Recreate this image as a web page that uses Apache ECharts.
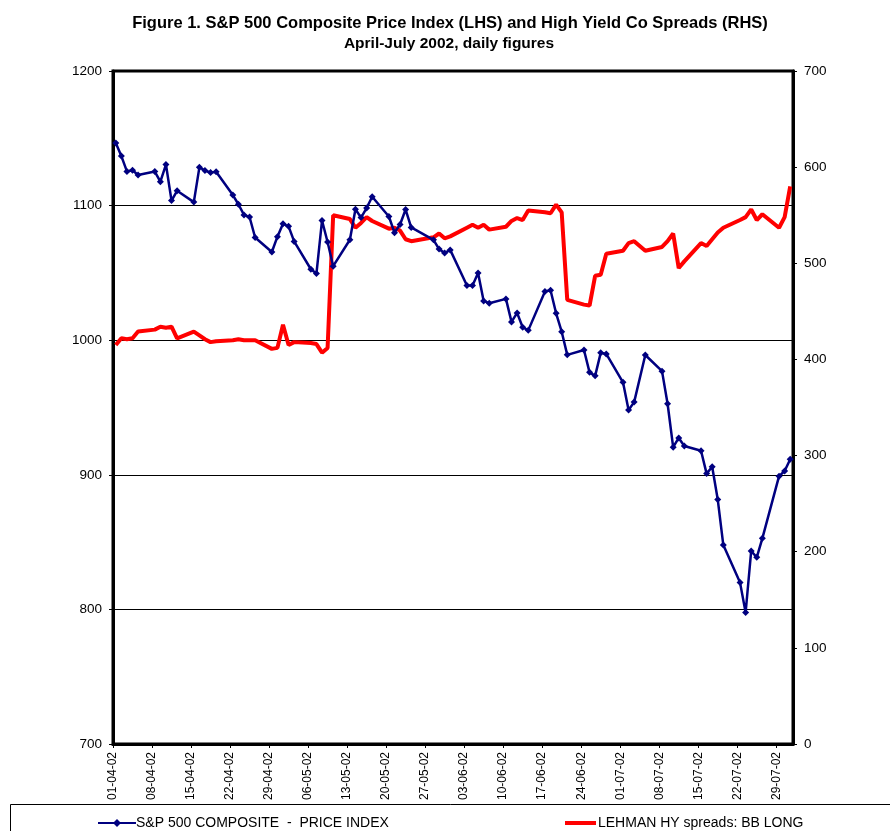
<!DOCTYPE html>
<html>
<head>
<meta charset="utf-8">
<script src="https://cdn.jsdelivr.net/npm/echarts@6/dist/echarts.min.js"></script>
<style>
html,body{margin:0;padding:0;background:#fff;}
#chart{width:890px;height:831px;}
</style>
</head>
<body>
<div id="chart"></div>
<script>
// Trading dates (2002)
var dates = [
 '2002-04-01','2002-04-02','2002-04-03','2002-04-04','2002-04-05',
 '2002-04-08','2002-04-09','2002-04-10','2002-04-11','2002-04-12',
 '2002-04-15','2002-04-16','2002-04-17','2002-04-18','2002-04-19',
 '2002-04-22','2002-04-23','2002-04-24','2002-04-25','2002-04-26',
 '2002-04-29','2002-04-30','2002-05-01','2002-05-02','2002-05-03',
 '2002-05-06','2002-05-07','2002-05-08','2002-05-09','2002-05-10',
 '2002-05-13','2002-05-14','2002-05-15','2002-05-16','2002-05-17',
 '2002-05-20','2002-05-21','2002-05-22','2002-05-23','2002-05-24',
 '2002-05-28','2002-05-29','2002-05-30','2002-05-31',
 '2002-06-03','2002-06-04','2002-06-05','2002-06-06','2002-06-07',
 '2002-06-10','2002-06-11','2002-06-12','2002-06-13','2002-06-14',
 '2002-06-17','2002-06-18','2002-06-19','2002-06-20','2002-06-21',
 '2002-06-24','2002-06-25','2002-06-26','2002-06-27','2002-06-28',
 '2002-07-01','2002-07-02','2002-07-03','2002-07-05',
 '2002-07-08','2002-07-09','2002-07-10','2002-07-11','2002-07-12',
 '2002-07-15','2002-07-16','2002-07-17','2002-07-18','2002-07-19',
 '2002-07-22','2002-07-23','2002-07-24','2002-07-25','2002-07-26',
 '2002-07-29','2002-07-30','2002-07-31'
];
// S&P 500 Composite price index (LHS)
var spx = [
 1146.5,1136.8,1125.4,1126.3,1122.7,
 1125.3,1117.8,1130.5,1103.7,1111.0,
 1102.6,1128.4,1126.1,1124.5,1125.2,
 1107.8,1101.0,1093.1,1091.5,1076.3,
 1065.5,1076.9,1086.5,1084.6,1073.4,
 1052.7,1049.5,1088.9,1073.0,1055.0,
 1074.6,1097.3,1091.1,1098.2,1106.6,
 1091.9,1079.9,1086.0,1097.1,1083.8,
 1074.6,1067.7,1064.7,1067.1,
 1040.7,1040.7,1049.9,1029.2,1027.5,
 1030.7,1013.6,1020.3,1009.6,1007.3,
 1036.2,1037.1,1020.0,1006.3,989.1,
 992.7,976.1,973.5,990.6,989.8,
 968.7,948.1,954.0,989.0,
 977.0,952.8,920.5,927.4,921.4,
 917.9,900.9,906.0,881.6,847.8,
 819.9,797.7,843.4,838.7,852.8,
 899.0,902.8,911.6
];
// Lehman HY spreads: BB long (RHS)
var hy = [
 415,422,421,422,429,
 431,434,433,434,422,
 429,425,421,418,419,
 420,421,420,420,420,
 411,412,436,415,418,
 417,416,407,412,550,
 546,537,542,548,544,
 536,537,534,525,523,
 527,531,526,528,
 537,540,537,540,535,
 538,544,547,545,555,
 553,552,561,553,462,
 457,456,487,488,510,
 513,521,523,513,
 517,523,531,495,502,
 521,518,525,532,537,
 545,548,556,545,551,
 537,548,580
];
var startDate = '2002-04-01';
var axisDays = 122;
var tickStep = 7;
var seriesNames = ['S&P 500 COMPOSITE  -  PRICE INDEX', 'LEHMAN HY spreads: BB LONG'];
var titleLines = ['Figure 1. S&P 500 Composite Price Index (LHS) and High Yield Co Spreads (RHS)', 'April-July 2002, daily figures'];

function dayIndex(s) {
  var p = s.split('-').map(Number);
  var q = startDate.split('-').map(Number);
  return (Date.UTC(p[0], p[1]-1, p[2]) - Date.UTC(q[0], q[1]-1, q[2])) / 86400000;
}
function pad(n){ return (n < 10 ? '0' : '') + n; }
function dayLabel(v) {
  if (v % tickStep !== 0) return '';
  var q = startDate.split('-').map(Number);
  var d = new Date(Date.UTC(q[0], q[1]-1, q[2]) + v * 86400000);
  return pad(d.getUTCDate()) + '-' + pad(d.getUTCMonth()+1) + '-' + String(d.getUTCFullYear()).slice(2);
}
function plain(v){ return String(v); }
var spxData = dates.map(function(d, i){ return [dayIndex(d) + 0.5, spx[i]]; });
var hyData = dates.map(function(d, i){ return [dayIndex(d) + 0.5, hy[i]]; });

var FONT = 'Liberation Sans, Arial, sans-serif';
var chart = echarts.init(document.getElementById('chart'), null, {renderer: 'canvas'});
chart.setOption({
  animation: false,
  backgroundColor: '#fff',
  textStyle: {fontFamily: FONT},
  grid: {left: 113, right: 97, top: 71, bottom: 87, show: true, borderColor: '#000', borderWidth: 3, containLabel: false},
  graphic: [
    {type: 'text', x: 450, y: 23, style: {text: titleLines[0], font: 'bold 16.5px ' + FONT, fill: '#000', align: 'center', verticalAlign: 'middle'}},
    {type: 'text', x: 449, y: 44, style: {text: titleLines[1], font: 'bold 15.5px ' + FONT, fill: '#000', align: 'center', verticalAlign: 'middle'}},
    {type: 'rect', shape: {x: 10.5, y: 804.5, width: 900, height: 60}, style: {fill: 'none', stroke: '#000', lineWidth: 1}}
  ],
  legend: [
    {data: [seriesNames[0]], left: 92, top: 811, itemWidth: 38, itemHeight: 10, itemGap: 0,
     textStyle: {fontSize: 14, color: '#000', fontFamily: FONT, padding: [0,0,0,-5]}},
    {data: [{name: seriesNames[1], icon: 'rect'}], left: 560, top: 811, itemWidth: 31, itemHeight: 4, itemGap: 0,
     textStyle: {fontSize: 14, color: '#000', fontFamily: FONT, padding: [0,0,0,-3]}}
  ],
  xAxis: {
    type: 'value', min: 0, max: axisDays, interval: tickStep,
    axisLine: {show: true, lineStyle: {color: '#000', width: 3}},
    axisTick: {show: true, length: 4, lineStyle: {color: '#000', width: 1}},
    splitLine: {show: false},
    axisLabel: {rotate: 90, margin: 8, fontSize: 12, color: '#000', fontFamily: FONT, formatter: dayLabel, showMaxLabel: false}
  },
  yAxis: [
    {type: 'value', min: 700, max: 1200, interval: 100, position: 'left',
     axisLine: {show: true, lineStyle: {color: '#000', width: 3}},
     axisTick: {show: true, length: 4, lineStyle: {color: '#000', width: 1}},
     splitLine: {show: true, lineStyle: {color: '#000', width: 1}},
     axisLabel: {margin: 11, fontSize: 13.5, color: '#000', fontFamily: FONT, formatter: plain}},
    {type: 'value', min: 0, max: 700, interval: 100, position: 'right',
     axisLine: {show: true, lineStyle: {color: '#000', width: 3}},
     axisTick: {show: true, length: 4, lineStyle: {color: '#000', width: 1}},
     splitLine: {show: false},
     axisLabel: {margin: 11, fontSize: 13.5, color: '#000', fontFamily: FONT, formatter: plain}}
  ],
  series: [
    {name: seriesNames[0], type: 'line', yAxisIndex: 0, data: spxData, z: 3,
     symbol: 'diamond', symbolSize: 7, showAllSymbol: true,
     lineStyle: {color: '#000080', width: 2.5}, itemStyle: {color: '#000080'}},
    {name: seriesNames[1], type: 'line', yAxisIndex: 1, data: hyData, z: 2,
     symbol: 'none', showSymbol: false,
     lineStyle: {color: '#ff0000', width: 4}, itemStyle: {color: '#ff0000'}}
  ]
});
</script>
</body>
</html>
